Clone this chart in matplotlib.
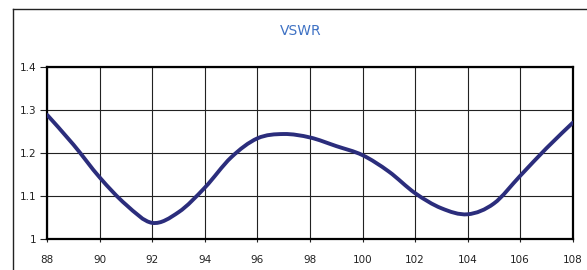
import matplotlib
matplotlib.use("Agg")
import matplotlib.pyplot as plt
import numpy as np
from matplotlib.path import Path
from matplotlib.patches import PathPatch
from matplotlib.lines import Line2D

# Data
freq = [88, 89, 90, 91, 92, 93, 94, 95, 96, 97, 98, 99, 100, 101, 102, 103, 104, 105, 106, 107, 108]
vswr = [1.288, 1.219, 1.143, 1.080, 1.038, 1.063, 1.120, 1.190, 1.234, 1.244, 1.236, 1.216, 1.195, 1.157,
        1.107, 1.072, 1.058, 1.083, 1.147, 1.211, 1.270]
xticks = [88, 90, 92, 94, 96, 98, 100, 102, 104, 106, 108]
yticks = [1.0, 1.1, 1.2, 1.3, 1.4]
ytick_labels = ["1", "1.1", "1.2", "1.3", "1.4"]
title = "VSWR"

fig = plt.figure(figsize=(5.87, 2.70), dpi=100)
ax = fig.add_axes([47.3 / 587, 1 - 239.3 / 270, (572.7 - 47.3) / 587, (239.3 - 66.7) / 270])

# smooth line through the points (Catmull-Rom as cubic Bezier)
x = np.asarray(freq, float)
y = np.asarray(vswr, float)
verts = [(x[0], y[0])]
codes = [Path.MOVETO]
n = len(x)
for i in range(n - 1):
    p0 = np.array([x[max(i - 1, 0)], y[max(i - 1, 0)]])
    p1 = np.array([x[i], y[i]])
    p2 = np.array([x[i + 1], y[i + 1]])
    p3 = np.array([x[min(i + 2, n - 1)], y[min(i + 2, n - 1)]])
    c1 = p1 + (p2 - p0) / 6.0
    c2 = p2 - (p3 - p1) / 6.0
    verts += [tuple(c1), tuple(c2), tuple(p2)]
    codes += [Path.CURVE4] * 3
patch = PathPatch(Path(verts, codes), facecolor="none", edgecolor="#2b2d7c", lw=2.8,
                  capstyle="round", joinstyle="round", zorder=3)
ax.add_patch(patch)

ax.set_xlim(88, 108)
ax.set_ylim(1.0, 1.4)
ax.set_xticks(xticks)
ax.set_xticklabels([str(t) for t in xticks])
ax.set_yticks(yticks)
ax.set_yticklabels(ytick_labels)
ax.grid(True, color="#222222", lw=0.8, zorder=1)
ax.set_axisbelow(True)
for s in ax.spines.values():
    s.set_linewidth(1.6)
    s.set_color("black")
ax.tick_params(axis="y", length=5, width=0.8, pad=3, labelsize=7.5, colors="#222222")
ax.tick_params(axis="x", length=2, width=0.8, pad=9, labelsize=7.5, colors="#222222")

fig.text(301 / 587, 1 - 31 / 270, title, color="#3f72c4", fontsize=10, ha="center", va="center")

# outer frame (left and top edges visible)
fig.add_artist(Line2D([13.3 / 587, 13.3 / 587], [0, 1 - 9.3 / 270], transform=fig.transFigure,
                      color="#222222", lw=1.0))
fig.add_artist(Line2D([13.3 / 587, 1], [1 - 9.3 / 270, 1 - 9.3 / 270], transform=fig.transFigure,
                      color="#222222", lw=1.0))

fig.savefig("out.png", dpi=100)
